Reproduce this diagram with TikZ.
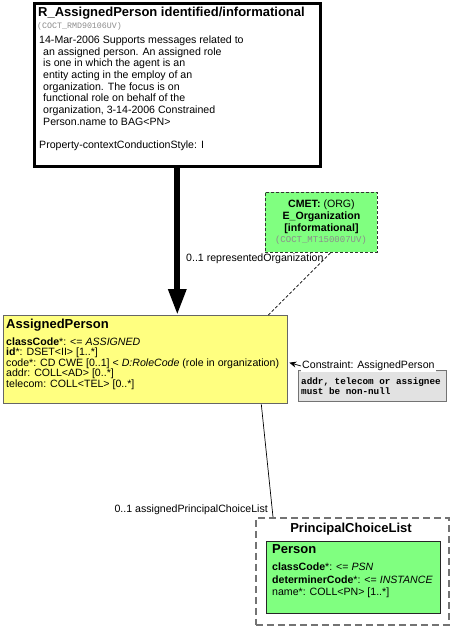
\documentclass[tikz,border=0pt]{standalone}
\usepackage{xcolor}
\usepackage{fontspec}
\setmainfont{Liberation Sans}
\setmonofont{Liberation Mono}
\usepackage{tikz}
\usetikzlibrary{arrows.meta, calc}
\definecolor{rimyellow}{RGB}{255,255,128}
\definecolor{rimgreen}{RGB}{128,255,128}
\definecolor{notegray}{RGB}{226,226,226}
\newcommand{\bodysize}{\fontsize{10.6}{11.7}\selectfont}
\tikzset{
  entrybox/.style={draw, line width=2.6pt, fill=white, anchor=north west, inner sep=0pt},
  classbox/.style={draw=black!60, line width=1.3pt, fill=rimyellow, anchor=north west, inner sep=0pt},
  cmetbox/.style={draw=black!80, line width=0.9pt, dash pattern=on 3pt off 2pt, fill=rimgreen, anchor=north west, inner sep=0pt},
  choicebox/.style={draw=black!55, line width=1.6pt, dash pattern=on 7pt off 4pt, fill=white, anchor=north west, inner sep=0pt},
  personbox/.style={draw=black!85, line width=1pt, fill=rimgreen, anchor=north west, inner sep=0pt},
  notebox/.style={draw=black!55, line width=0.9pt, fill=notegray, anchor=north west, inner sep=0pt},
  boxtitle/.style={font=\fontsize{13}{15}\selectfont\bfseries, inner sep=0pt},
  attrs/.style={font=\bodysize, align=left, anchor=north west, inner sep=0pt},
  codetext/.style={font=\fontsize{8.3}{10}\selectfont\ttfamily, text=black!45, inner sep=0pt},
  rolelabel/.style={font=\bodysize, inner sep=0pt},
  assoc/.style={line width=0.7pt},
  navlink/.style={line width=6pt, -{Triangle[width=17pt,length=26pt]}}
}

\begin{document}
\begin{tikzpicture}[x=1pt, y=-1pt]
        \useasboundingbox (0,0) rectangle (451,626);

        % Entry point
        \node[entrybox, minimum width=286pt, minimum height=163pt] (entry) at (33,2) {};
        \node[boxtitle, anchor=base west] (entrytitle) at (38,16.5) {R\_AssignedPerson identified/informational};
        \node[codetext, anchor=base west] (entrycode) at (37,28.5) {(COCT\_RMD90106UV)};
        \node[attrs] (entrydesc) at (39,35.5) {14-Mar-2006 Supports messages related to\\
          \hspace*{4pt}an assigned person. An assigned role\\
          \hspace*{4pt}is one in which the agent is an\\
          \hspace*{4pt}entity acting in the employ of an\\
          \hspace*{4pt}organization. The focus is on\\
          \hspace*{4pt}functional role on behalf of the\\
          \hspace*{4pt}organization, 3-14-2006 Constrained\\
          \hspace*{4pt}Person.name to BAG<PN>};
        \node[rolelabel, anchor=base west] (entrystyle) at (39,148) {Property-contextConductionStyle: I};

        % CMET
        \node[cmetbox, minimum width=112pt, minimum height=60pt] (cmet) at (265,192) {};
        \node[font=\fontsize{10.6}{12}\selectfont\bfseries, align=center, inner sep=0pt] (cmettext) at ($(cmet.center)+(0,-6)$)
          {CMET: \textmd{(ORG)}\\E\_Organization\\{}[informational]};
        \node[codetext, font=\fontsize{9}{10}\selectfont\ttfamily] (cmetcode) at (321,240) {(COCT\_MT150007UV)};

        % Assigned person class
        \node[classbox, minimum width=284pt, minimum height=88pt] (assigned) at (3,315) {};
        \node[boxtitle, anchor=base west] (assignedtitle) at (6,328) {AssignedPerson};
        \node[attrs, font=\fontsize{10.6}{10.5}\selectfont] (assignedattrs) at (6,337.5) {\textbf{classCode}*: <= \textit{ASSIGNED}\\
          \textbf{id}*: DSET<II> [1..*]\\
          code*: CD CWE [0..1] < \textit{D:RoleCode} (role in organization)\\
          addr: COLL<AD> [0..*]\\
          telecom: COLL<TEL> [0..*]};

        % Constraint
        \node[notebox, minimum width=148pt, minimum height=31pt] (note) at (298,370) {};
        \node[attrs, font=\fontsize{9.3}{10}\selectfont\ttfamily\bfseries] (notetext) at (301,377.5) {addr, telecom or assignee\\must be non-null};
        \node[rolelabel, anchor=west, fill=white, inner xsep=1pt, inner ysep=1.5pt] (notelabel) at (301,366) {Constraint: AssignedPerson};

        % Choice
        \node[choicebox, minimum width=193pt, minimum height=107pt] (choice) at (255,517) {};
        \node[boxtitle] (choicetitle) at (351,529) {PrincipalChoiceList};
        \node[personbox, minimum width=174pt, minimum height=72pt] (person) at (266,541) {};
        \node[boxtitle, anchor=base west] (persontitle) at (272,553) {Person};
        \node[attrs, font=\fontsize{10.6}{12.3}\selectfont] (personattrs) at (272,563) {\textbf{classCode}*: <= \textit{PSN}\\
          \textbf{determinerCode}*: <= \textit{INSTANCE}\\
          name*: COLL<PN> [1..*]};

        % Links
        \draw[navlink] (entry.south) -- (entry.south |- assigned.north);
        \draw[assoc, dash pattern=on 3pt off 2pt] ($(cmet.south)+(9,0)$) -- ($(assigned.north east)+(-20,0)$);
        \draw[assoc] ($(assigned.south east)+(-27,0)$) -- ($(choice.north west)+(18,0)$);
        \draw[line width=0.7pt, -{Stealth[length=7pt, width=6pt]}] (notelabel.west) -- ($(assigned.east)+(1,3)$);

        % Role names
        \node[rolelabel, anchor=west] (orgrole) at (186,259) {0..1 representedOrganization};
        \node[rolelabel, anchor=east] (choicerole) at (268,510) {0..1 assignedPrincipalChoiceList};
    \end{tikzpicture}
\end{document}
